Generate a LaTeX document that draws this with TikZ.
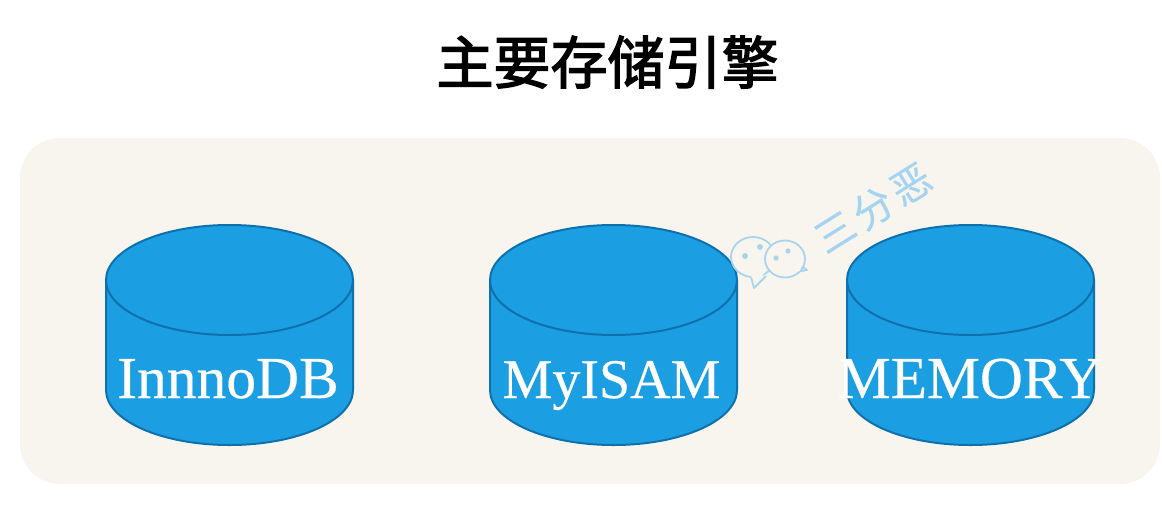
\documentclass[tikz,border=0pt]{standalone}
\usepackage{fontspec}
\setmainfont[FakeBold=0.35]{Liberation Serif}
\newfontfamily\cjk[FakeBold=2.5]{Noto Sans CJK SC}
\newfontfamily\cjkmark[LetterSpace=12,FakeBold=0.4]{Noto Sans CJK SC}
\definecolor{panelbg}{HTML}{F8F5EE}
\definecolor{cylfill}{HTML}{1C9FE2}
\definecolor{cylline}{HTML}{0F70AE}
\definecolor{markblue}{HTML}{A5D3F2}
\definecolor{markicon}{HTML}{A9D5EC}
\tikzset{
  cylbody/.style={fill=cylfill,draw=cylline,line width=2pt},
  cyllabel/.style={text=white,font=\fontsize{59.5}{60}\selectfont,anchor=base,inner sep=0pt},
  bubble/.style={draw=markicon,fill=panelbg,line width=1.8pt,line join=round},
  eye/.style={fill=markicon,draw=none},
  pics/dbcyl/.style={code={
    \draw[cylbody] (-123.5,0) -- (-123.5,110) arc[start angle=180,end angle=0,x radius=123.5,y radius=55] -- (123.5,0);
    \draw[cylbody] (0,0) ellipse[x radius=123.5,y radius=55];
  }}
}
\begin{document}
\begin{tikzpicture}[x=1pt,y=-1pt]
\useasboundingbox (0,0) rectangle (1162,507);
\fill[white] (0,0) rectangle (1162,507);
\node[inner sep=0pt,font=\cjk\fontsize{57}{60}\selectfont] (title) at (607.5,62) {主要存储引擎};
\fill[panelbg,rounded corners=40pt] (20,138) rectangle (1160,484);
\pic at (229.5,280) {dbcyl};
\pic at (613.5,280) {dbcyl};
\pic at (970.5,280) {dbcyl};
\node[cyllabel] (inno) at (228,398) {InnnoDB};
\node[cyllabel,font=\fontsize{56}{60}\selectfont] (myisam) at (611.5,398) {MyISAM};
\node[cyllabel] (memory) at (970,398) {MEMORY};
% watermark
\draw[bubble] (751,277) -- (754,288) -- (766,276);
\draw[bubble] (753,257) ellipse[x radius=22,y radius=20];
\fill[panelbg] (748,272) -- (765,272) -- (760,279) -- (753,279) -- cycle;
\draw[bubble] (796,272) -- (807,270) -- (800,265);
\draw[bubble] (785,259) ellipse[x radius=20,y radius=18.5];
\fill[panelbg] (794,266) -- (801,266) -- (800,271) -- (795,272) -- cycle;
\fill[eye] (745,256) circle (3);
\fill[eye] (760,247) circle (3);
\fill[eye] (776,258) circle (2.6);
\fill[eye] (788,251) circle (2.6);
\node[inner sep=0pt,text=markblue,rotate=32,font=\cjkmark\fontsize{40}{42}\selectfont] (mark) at (873,208) {三分恶};
\end{tikzpicture}
\end{document}
